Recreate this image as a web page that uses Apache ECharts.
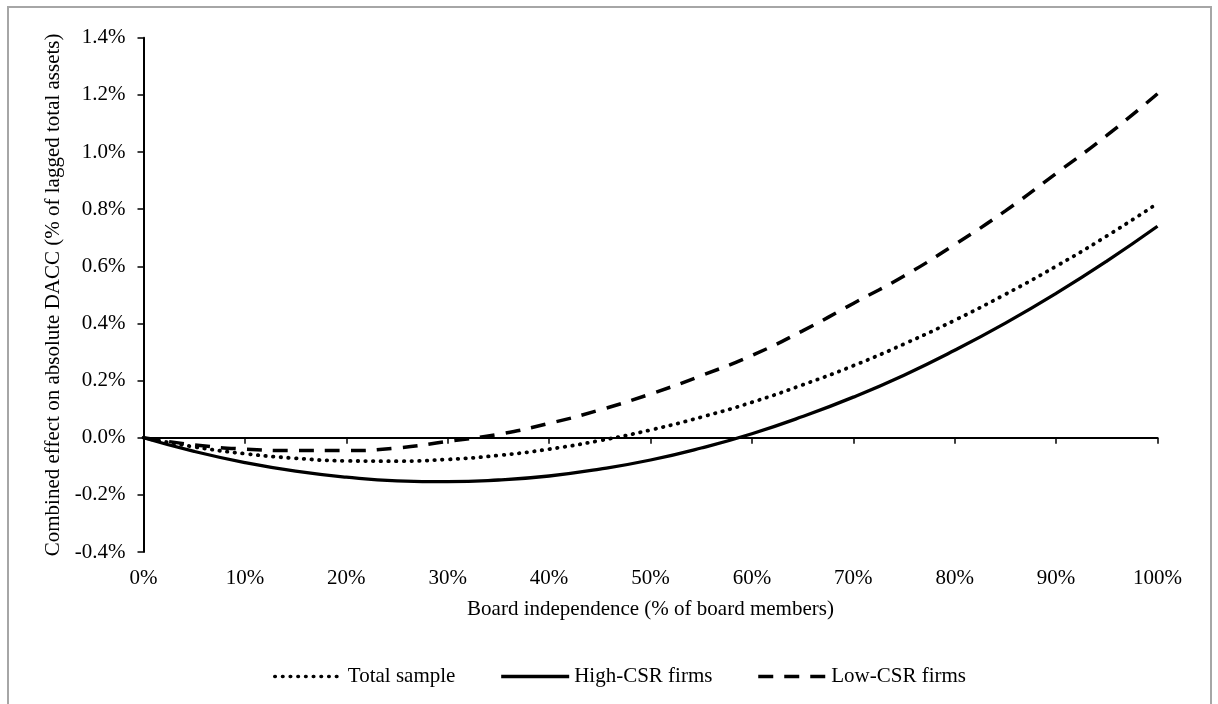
<!DOCTYPE html>
<html>
<head>
<meta charset="utf-8">
<script src="https://cdn.jsdelivr.net/npm/echarts@6/dist/echarts.min.js"></script>
<style>
html,body{margin:0;padding:0;background:#fff;}
#chart{width:1218px;height:704px;}
</style>
</head>
<body>
<div id="chart"></div>
<script>
// Board independence (% of board members)
const boardIndependence = [0,5,10,15,20,25,30,35,40,45,50,55,60,65,70,75,80,85,90,95,100];
// Combined effect on absolute DACC (% of lagged total assets)
const totalSample = [0,-0.032,-0.056,-0.072,-0.081,-0.082,-0.076,-0.062,-0.040,-0.010,0.027,0.072,0.124,0.185,0.252,0.328,0.411,0.502,0.600,0.706,0.820];
const highCSR = [0,-0.048,-0.087,-0.117,-0.138,-0.151,-0.154,-0.148,-0.134,-0.110,-0.078,-0.036,0.014,0.074,0.142,0.219,0.306,0.401,0.505,0.618,0.740];
const lowCSR = [0,-0.025,-0.040,-0.045,-0.045,-0.036,-0.013,0.012,0.050,0.097,0.153,0.217,0.288,0.374,0.470,0.566,0.676,0.794,0.925,1.058,1.204];
const seriesNames = ['Total sample','High-CSR firms','Low-CSR firms'];
const xTicks = {min:0, max:100, step:10};
const yTicks = {min:-0.4, max:1.4, step:0.2};
const xTitle = 'Board independence (% of board members)';
const yTitle = 'Combined effect on absolute DACC (% of lagged total assets)';

const FONT = '"Liberation Serif", "Times New Roman", serif';
const pairs = arr => boardIndependence.map((x,i)=>[x,arr[i]]);

const chart = echarts.init(document.getElementById('chart'), null, {renderer:'canvas'});
const xBase = {
  type:'value', min:xTicks.min, max:xTicks.max, interval:xTicks.step,
  splitLine:{show:false}
};
chart.setOption({
  animation:false,
  backgroundColor:'#fff',
  graphic:[{
    type:'rect', silent:true,
    shape:{x:8, y:7, width:1203, height:720},
    style:{fill:'none', stroke:'#a6a6a6', lineWidth:2}
  }],
  grid:{left:143.5, right:60.5, top:37.7, bottom:152, containLabel:false},
  legend:{
    left:268, top:661,
    itemWidth:68, itemHeight:14, itemGap:44,
    itemStyle:{color:'rgba(0,0,0,0)', borderColor:'rgba(0,0,0,0)', borderWidth:0},
    lineStyle:{width:3.6},
    textStyle:{fontFamily:FONT, fontSize:21, color:'#000', padding:[0,0,0,0]},
    data:seriesNames
  },
  xAxis:[
    Object.assign({}, xBase, {
      position:'bottom',
      axisLine:{show:false, onZero:false},
      axisTick:{show:false},
      axisLabel:{show:true, margin:16, fontFamily:FONT, fontSize:21, color:'#000', formatter:v=>v+'%'},
      name:xTitle, nameLocation:'middle', nameGap:47,
      nameTextStyle:{fontFamily:FONT, fontSize:21, color:'#000'}
    }),
    Object.assign({}, xBase, {
      position:'bottom',
      axisLine:{show:true, onZero:true, lineStyle:{color:'#000', width:2}},
      axisTick:{show:true, length:6, inside:false, lineStyle:{color:'#000', width:1.5}},
      axisLabel:{show:false}
    })
  ],
  yAxis:{
    type:'value', min:yTicks.min, max:yTicks.max, interval:yTicks.step,
    axisLine:{show:true, onZero:false, lineStyle:{color:'#000', width:2}},
    axisTick:{show:true, length:6, lineStyle:{color:'#000', width:1.5}},
    splitLine:{show:false},
    axisLabel:{margin:18, fontFamily:FONT, fontSize:21, color:'#000', formatter:v=>v.toFixed(1)+'%'},
    name:yTitle, nameLocation:'middle', nameGap:69, nameRotate:90,
    nameTextStyle:{fontFamily:FONT, fontSize:21, color:'#000'}
  },
  series:[
    {name:seriesNames[0], type:'line', xAxisIndex:0, data:pairs(totalSample), smooth:true, showSymbol:false, symbol:'none',
     lineStyle:{color:'#000', width:3.8, type:[0.5,7.2], cap:'round'}, itemStyle:{color:'#000'}},
    {name:seriesNames[1], type:'line', xAxisIndex:0, data:pairs(highCSR), smooth:true, showSymbol:false, symbol:'none',
     lineStyle:{color:'#000', width:3.3, type:'solid'}, itemStyle:{color:'#000'}},
    {name:seriesNames[2], type:'line', xAxisIndex:0, data:pairs(lowCSR), smooth:true, showSymbol:false, symbol:'none',
     lineStyle:{color:'#000', width:3.5, type:[15,11], cap:'butt'}, itemStyle:{color:'#000'}}
  ]
});
</script>
</body>
</html>
